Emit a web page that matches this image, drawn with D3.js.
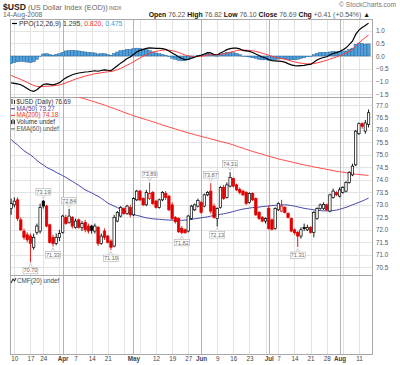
<!DOCTYPE html>
<html><head><meta charset="utf-8">
<script src="https://cdn.jsdelivr.net/npm/d3@7"></script>
<style>body{margin:0;background:#fff}svg{display:block}text{font-family:"Liberation Sans",Arial,sans-serif}</style>
</head><body>
<svg id="c" width="400" height="365"></svg>
<script>
// ---------- DATA ----------
const dates = ["2008-03-07","2008-03-10","2008-03-11","2008-03-12","2008-03-13","2008-03-14","2008-03-17","2008-03-18","2008-03-19","2008-03-20","2008-03-24","2008-03-25","2008-03-26","2008-03-27","2008-03-28","2008-03-31",
"2008-04-01","2008-04-02","2008-04-03","2008-04-04","2008-04-07","2008-04-08","2008-04-09","2008-04-10","2008-04-11","2008-04-14","2008-04-15","2008-04-16","2008-04-17","2008-04-18","2008-04-21","2008-04-22","2008-04-23","2008-04-24","2008-04-25","2008-04-28","2008-04-29","2008-04-30",
"2008-05-01","2008-05-02","2008-05-05","2008-05-06","2008-05-07","2008-05-08","2008-05-09","2008-05-12","2008-05-13","2008-05-14","2008-05-15","2008-05-16","2008-05-19","2008-05-20","2008-05-21","2008-05-22","2008-05-23","2008-05-27","2008-05-28","2008-05-29","2008-05-30",
"2008-06-02","2008-06-03","2008-06-04","2008-06-05","2008-06-06","2008-06-09","2008-06-10","2008-06-11","2008-06-12","2008-06-13","2008-06-16","2008-06-17","2008-06-18","2008-06-19","2008-06-20","2008-06-23","2008-06-24","2008-06-25","2008-06-26","2008-06-27","2008-06-30",
"2008-07-01","2008-07-02","2008-07-03","2008-07-07","2008-07-08","2008-07-09","2008-07-10","2008-07-11","2008-07-14","2008-07-15","2008-07-16","2008-07-17","2008-07-18","2008-07-21","2008-07-22","2008-07-23","2008-07-24","2008-07-25","2008-07-28","2008-07-29","2008-07-30","2008-07-31",
"2008-08-01","2008-08-04","2008-08-05","2008-08-06","2008-08-07","2008-08-08","2008-08-11","2008-08-12","2008-08-13","2008-08-14"];

const open = [72.85,73.00,73.20,72.40,71.95,71.80,71.75,71.30,71.90,71.95,73.15,72.95,72.20,71.70,71.45,71.70,
71.90,72.50,72.30,72.50,72.10,72.40,72.10,72.30,72.15,72.15,71.95,72.10,71.45,71.95,71.75,71.55,71.35,72.35,72.55,72.85,72.65,72.90,
72.60,73.20,73.55,73.25,73.00,73.25,73.50,73.15,72.90,73.20,73.45,73.35,73.00,72.50,72.45,72.05,72.00,71.95,72.45,72.80,72.95,
73.10,72.95,73.40,73.55,72.95,72.45,72.90,73.70,73.30,73.75,74.05,73.80,73.62,73.55,73.50,73.10,73.45,73.25,72.70,72.50,72.35,
72.85,72.40,72.05,72.80,72.75,72.90,72.65,72.45,72.00,71.90,71.75,72.10,72.00,72.10,71.90,72.45,72.85,72.85,73.00,72.75,73.30,73.50,
73.35,73.50,73.55,73.90,74.20,74.60,75.85,76.25,75.95,76.22];
const high = [73.25,73.30,73.30,72.50,72.05,71.90,71.85,71.85,72.25,73.05,73.19,73.00,72.25,71.80,71.85,72.00,
72.60,72.60,72.84,72.55,72.45,72.45,72.35,72.40,72.25,72.20,72.25,72.15,71.85,72.05,71.80,71.62,72.60,72.75,72.95,72.90,73.00,73.00,
73.30,73.60,73.60,73.30,73.60,73.89,73.55,73.20,73.25,73.55,73.55,73.40,73.10,72.55,72.50,72.15,72.05,72.60,73.00,73.05,73.25,
73.15,73.45,73.55,73.87,73.05,72.90,73.75,73.80,73.90,74.31,74.10,73.85,73.70,73.60,73.55,73.50,73.50,73.30,72.75,72.55,72.50,
72.95,72.45,72.90,73.10,73.20,72.95,72.70,72.50,72.05,71.95,72.10,72.25,72.20,72.15,72.75,72.90,73.05,73.10,73.05,73.45,73.65,73.55,
73.70,73.75,73.95,74.35,74.65,76.00,76.30,76.30,76.40,76.82];
const low = [72.60,72.90,72.35,71.95,71.60,71.50,70.70,71.20,71.80,71.85,72.85,72.10,71.45,71.33,71.38,71.55,
71.85,72.20,72.25,72.05,72.05,72.05,71.95,71.90,71.85,71.85,71.85,71.35,71.40,71.60,71.45,71.19,71.30,72.30,72.50,72.60,72.60,72.50,
72.55,73.15,73.15,72.95,72.95,73.20,73.00,72.85,72.85,73.15,73.20,72.75,72.40,72.25,71.88,71.82,71.85,71.90,72.40,72.75,72.90,
72.65,72.90,73.35,72.65,72.45,72.13,72.85,73.20,73.25,73.70,73.70,73.55,73.42,73.35,73.00,73.05,73.15,72.55,72.40,72.30,72.25,
72.00,71.98,72.00,72.75,72.70,72.65,72.45,71.90,71.80,71.31,71.65,71.95,71.95,71.85,71.70,72.40,72.80,72.80,72.75,72.70,73.25,73.35,
73.30,73.45,73.50,73.85,74.15,74.55,75.80,76.05,75.85,76.10];
const close = [73.05,73.15,72.45,72.00,71.70,71.60,71.45,71.70,72.15,72.90,72.95,72.15,71.50,71.45,71.70,71.85,
72.55,72.25,72.55,72.15,72.35,72.10,72.25,72.00,71.95,71.98,72.15,71.45,71.75,71.70,71.50,71.30,72.50,72.70,72.90,72.65,72.95,72.60,
73.25,73.55,73.20,73.00,73.50,73.45,73.05,72.90,73.20,73.50,73.30,72.80,72.45,72.32,71.92,71.90,71.88,72.55,72.95,73.00,73.18,
72.70,73.40,73.50,72.75,72.50,72.85,73.70,73.25,73.80,74.10,73.75,73.60,73.50,73.40,73.05,73.45,73.20,72.60,72.45,72.35,72.45,
72.05,72.02,72.85,73.05,72.95,72.70,72.50,71.95,71.88,71.75,72.00,72.05,72.10,71.90,72.70,72.85,73.00,73.02,72.80,73.40,73.55,73.40,
73.60,73.70,73.90,74.30,74.55,75.95,76.25,76.15,76.28,76.69];

const ma50 = [75.62,75.50,75.40,75.28,75.17,75.08,75.00,74.90,74.78,74.68,74.60,74.50,74.44,74.38,74.30,74.24,
74.17,74.10,74.02,73.94,73.86,73.78,73.69,73.60,73.54,73.48,73.41,73.34,73.26,73.17,73.07,73.01,72.95,72.89,72.82,72.76,72.70,72.65,
72.61,72.58,72.55,72.51,72.48,72.46,72.44,72.43,72.42,72.41,72.40,72.39,72.39,72.38,72.38,72.38,72.39,72.40,72.42,72.44,72.46,
72.48,72.50,72.52,72.55,72.57,72.59,72.62,72.64,72.67,72.70,72.73,72.77,72.80,72.83,72.85,72.87,72.89,72.90,72.91,72.93,72.94,
72.96,72.97,72.98,72.99,73.00,73.00,72.99,72.97,72.95,72.92,72.89,72.86,72.84,72.82,72.80,72.78,72.77,72.76,72.76,72.76,72.77,72.79,
72.82,72.86,72.90,72.95,73.00,73.05,73.10,73.15,73.21,73.27];
const ma200 = [78.20,78.16,78.12,78.08,78.03,77.99,77.95,77.91,77.87,77.82,77.78,77.74,77.70,77.66,77.61,77.57,
77.53,77.49,77.45,77.40,77.36,77.32,77.28,77.24,77.20,77.16,77.12,77.08,77.04,77.00,76.95,76.90,76.86,76.81,76.76,76.71,76.66,76.62,
76.57,76.53,76.49,76.45,76.41,76.37,76.33,76.29,76.24,76.20,76.16,76.12,76.08,76.04,76.00,75.96,75.92,75.88,75.85,75.81,75.78,
75.74,75.71,75.68,75.64,75.61,75.57,75.54,75.51,75.48,75.44,75.40,75.35,75.31,75.27,75.22,75.18,75.14,75.10,75.06,75.03,74.99,
74.95,74.91,74.88,74.84,74.81,74.78,74.75,74.72,74.69,74.66,74.63,74.60,74.57,74.55,74.52,74.50,74.47,74.45,74.42,74.40,74.37,74.35,
74.33,74.31,74.29,74.26,74.25,74.23,74.22,74.20,74.19,74.18];

const ppo = [-1.06,-1.08,-1.10,-1.13,-1.20,-1.28,-1.36,-1.39,-1.33,-1.22,-1.12,-1.10,-1.12,-1.14,-1.10,-1.05,
-0.95,-0.86,-0.80,-0.74,-0.70,-0.67,-0.65,-0.63,-0.62,-0.60,-0.58,-0.60,-0.57,-0.55,-0.56,-0.58,-0.48,-0.38,-0.28,-0.20,-0.10,-0.04,
0.06,0.16,0.22,0.26,0.30,0.32,0.31,0.30,0.30,0.29,0.26,0.20,0.12,0.05,-0.03,-0.10,-0.14,-0.13,-0.09,-0.05,0.00,
0.03,0.08,0.13,0.12,0.06,0.04,0.12,0.18,0.25,0.29,0.31,0.31,0.28,0.22,0.20,0.18,0.14,0.08,0.02,-0.04,-0.08,
-0.14,-0.18,-0.19,-0.20,-0.21,-0.24,-0.30,-0.35,-0.38,-0.39,-0.38,-0.37,-0.34,-0.33,-0.25,-0.16,-0.10,-0.06,-0.03,0.04,0.10,0.13,
0.18,0.24,0.32,0.45,0.58,0.85,1.02,1.12,1.20,1.295];
const ppoSignal = [-0.76,-0.82,-0.87,-0.92,-0.98,-1.04,-1.10,-1.16,-1.20,-1.21,-1.20,-1.19,-1.18,-1.17,-1.16,-1.14,
-1.10,-1.06,-1.01,-0.96,-0.91,-0.87,-0.83,-0.79,-0.76,-0.73,-0.70,-0.68,-0.66,-0.64,-0.62,-0.61,-0.58,-0.54,-0.49,-0.43,-0.36,-0.30,
-0.23,-0.15,-0.08,-0.01,0.05,0.11,0.15,0.18,0.21,0.23,0.24,0.23,0.21,0.18,0.14,0.09,0.04,0.01,-0.01,-0.02,-0.02,
-0.01,0.01,0.03,0.05,0.05,0.05,0.06,0.08,0.11,0.15,0.18,0.21,0.23,0.23,0.23,0.22,0.21,0.18,0.15,0.11,0.07,
0.03,-0.01,-0.05,-0.08,-0.10,-0.13,-0.16,-0.20,-0.23,-0.26,-0.28,-0.30,-0.31,-0.31,-0.30,-0.27,-0.24,-0.20,-0.17,-0.12,-0.08,-0.04,
0.01,0.06,0.12,0.19,0.27,0.39,0.51,0.63,0.73,0.820];
const ppoHist = [-0.30,-0.26,-0.23,-0.21,-0.22,-0.24,-0.26,-0.23,-0.13,-0.01,0.08,0.09,0.06,0.03,0.06,0.09,
0.15,0.20,0.21,0.22,0.21,0.20,0.18,0.16,0.14,0.13,0.12,0.08,0.09,0.09,0.06,0.03,0.10,0.16,0.21,0.23,0.26,0.26,
0.29,0.31,0.30,0.27,0.25,0.21,0.16,0.12,0.09,0.06,0.02,-0.03,-0.09,-0.13,-0.17,-0.19,-0.18,-0.14,-0.08,-0.03,0.02,
0.04,0.07,0.10,0.07,0.01,-0.01,0.06,0.10,0.14,0.14,0.13,0.10,0.05,-0.01,-0.03,-0.04,-0.07,-0.10,-0.13,-0.15,-0.15,
-0.17,-0.17,-0.14,-0.12,-0.11,-0.11,-0.14,-0.15,-0.15,-0.13,-0.10,-0.07,-0.03,-0.02,0.05,0.11,0.14,0.14,0.14,0.16,0.18,0.17,
0.17,0.18,0.20,0.26,0.31,0.46,0.51,0.49,0.47,0.475];

const tickDates = ["2008-03-10","2008-03-17","2008-03-24","2008-04-01","2008-04-07","2008-04-14","2008-04-21","2008-05-01","2008-05-12","2008-05-19","2008-05-27","2008-06-02","2008-06-09","2008-06-16","2008-06-23","2008-07-01","2008-07-07","2008-07-14","2008-07-21","2008-07-28","2008-08-01","2008-08-11"];
const tickLabels = ["10","17","24","Apr","7","14","21","May","12","19","27","Jun","9","16","23","Jul","7","14","21","28","Aug","11"];
const weekStarts = ["2008-03-10","2008-03-17","2008-03-24","2008-03-31","2008-04-07","2008-04-14","2008-04-21","2008-04-28","2008-05-05","2008-05-12","2008-05-19","2008-05-27","2008-06-02","2008-06-09","2008-06-16","2008-06-23","2008-06-30","2008-07-07","2008-07-14","2008-07-21","2008-07-28","2008-08-04","2008-08-11"];
const monthStarts = ["2008-04-01","2008-05-01","2008-06-02","2008-07-01","2008-08-01"];
const priceTicks = [70.5,71.0,71.5,72.0,72.5,73.0,73.5,74.0,74.5,75.0,75.5,76.0,76.5,77.0];
const ppoTicks = [-1.5,-1.0,-0.5,0.0,0.5,1.0];
const markDates = ["2008-03-17","2008-03-24","2008-03-27","2008-04-03","2008-04-22","2008-05-08","2008-05-22","2008-06-05","2008-06-09","2008-06-13","2008-07-15"];
const markValues = [70.70,73.19,71.33,72.84,71.19,73.89,71.82,73.87,72.13,74.31,71.31];
const markSide = ["below","above","below","above","below","above","below","above","below","above","below"];

// ---------- LAYOUT ----------
const svg = d3.select("#c");
const L = 10, R = 373;
const ppoTop = 19, ppoBot = 97, prTop = 97, prBot = 275, cmfTop = 275, cmfBot = 354;
const idx = dates.map((d, i) => i);
const x = d3.scaleLinear().domain([-0.35, 112.38]).range([L, R]);
const yPpo = d3.scaleLinear().domain([-1.614, 1.457]).range([ppoBot, ppoTop]);
const yPr = d3.scaleLinear().domain([70.19, 77.32]).range([prBot, prTop]);
const gridC = "#e3e3e3", monthC = "#b4b4b4", borderC = "#a8a8a8";
const RED = "#e00000";

const defs = svg.append("defs");
function clip(id, y0, y1) {
  defs.append("clipPath").attr("id", id).append("rect").attr("x", L).attr("y", y0).attr("width", R - L).attr("height", y1 - y0);
}
clip("cPpo", ppoTop, ppoBot); clip("cPr", prTop, prBot); clip("cCmf", cmfTop, cmfBot);

function panelGrid(y0, y1, yScale, ticks) {
  const g = svg.append("g");
  if (ticks) g.selectAll("line.h").data(ticks).join("line")
    .attr("x1", L).attr("x2", R).attr("y1", d => Math.round(yScale(d)) + 0.5).attr("y2", d => Math.round(yScale(d)) + 0.5)
    .attr("stroke", gridC).attr("stroke-width", 1);
  g.selectAll("line.w").data(weekStarts).join("line")
    .attr("x1", d => Math.round(x(dates.indexOf(d))) + 0.5).attr("x2", d => Math.round(x(dates.indexOf(d))) + 0.5)
    .attr("y1", y0).attr("y2", y1).attr("stroke", gridC);
  g.selectAll("line.m").data(monthStarts).join("line")
    .attr("x1", d => Math.round(x(dates.indexOf(d))) + 0.5).attr("x2", d => Math.round(x(dates.indexOf(d))) + 0.5)
    .attr("y1", y0).attr("y2", y1).attr("stroke", monthC);
  g.append("rect").attr("x", L + 0.5).attr("y", y0 + 0.5).attr("width", R - L - 1).attr("height", y1 - y0)
    .attr("fill", "none").attr("stroke", borderC);
}
panelGrid(ppoTop, ppoBot, yPpo, ppoTicks);
panelGrid(prTop, prBot, yPr, priceTicks);
panelGrid(cmfTop, cmfBot, null, null);

// ---------- PPO PANEL ----------
const gP = svg.append("g").attr("clip-path", "url(#cPpo)");
const bw = x(1) - x(0);
gP.selectAll("rect.hist").data(idx).join("rect")
  .attr("x", i => x(i) - bw / 2).attr("width", bw)
  .attr("y", i => Math.min(yPpo(ppoHist[i]), yPpo(0)))
  .attr("height", i => Math.abs(yPpo(ppoHist[i]) - yPpo(0)))
  .attr("fill", "#4f9fd8").attr("stroke", "#21609c").attr("stroke-width", 0.45);
gP.append("path").datum(idx).attr("fill", "none").attr("stroke", "#ff3b3b").attr("stroke-width", 1)
  .attr("d", d3.line().x(i => x(i)).y(i => yPpo(ppoSignal[i])));
gP.append("path").datum(idx).attr("fill", "none").attr("stroke", "#000").attr("stroke-width", 1.2)
  .attr("d", d3.line().x(i => x(i)).y(i => yPpo(ppo[i])));

// ---------- PRICE PANEL ----------
const gC = svg.append("g").attr("clip-path", "url(#cPr)");
gC.append("path").datum(idx).attr("fill", "none").attr("stroke", "#ff4a4a").attr("stroke-width", 1)
  .attr("d", d3.line().x(i => x(i)).y(i => yPr(ma200[i])));
gC.append("path").datum(idx).attr("fill", "none").attr("stroke", "#4747a8").attr("stroke-width", 1)
  .attr("d", d3.line().x(i => x(i)).y(i => yPr(ma50[i])));
const colorOf = i => (i > 0 && close[i] < close[i - 1]) ? RED : "#000";
const cw = 2.4;
const cg = gC.selectAll("g.cdl").data(idx).join("g");
cg.append("line").attr("x1", i => x(i)).attr("x2", i => x(i))
  .attr("y1", i => yPr(high[i])).attr("y2", i => yPr(low[i]))
  .attr("stroke", colorOf).attr("stroke-width", 0.9);
cg.append("rect").attr("x", i => x(i) - cw / 2).attr("width", cw)
  .attr("y", i => yPr(Math.max(open[i], close[i])))
  .attr("height", i => Math.max(0.8, Math.abs(yPr(open[i]) - yPr(close[i]))))
  .attr("fill", i => close[i] < open[i] ? colorOf(i) : "#fff")
  .attr("stroke", colorOf).attr("stroke-width", 0.7);

// high / low markers
const mk = svg.append("g");
markDates.forEach((d, k) => {
  const i = dates.indexOf(d), cx = x(i), v = markValues[k];
  const yv = yPr(v), above = markSide[k] === "above";
  const bh = 6.5, bwid = 15;
  const by = above ? yv - 5 - bh : yv + 5;
  const tipY = above ? yv - 1.5 : yv + 1.5;
  const baseY = above ? by + bh : by;
  mk.append("path").attr("d", `M${cx - 2},${baseY}L${cx},${tipY}L${cx + 2},${baseY}`)
    .attr("fill", "#fff").attr("stroke", "#b0b0b0").attr("stroke-width", 0.6);
  mk.append("rect").attr("x", cx - bwid / 2).attr("y", by).attr("width", bwid).attr("height", bh)
    .attr("fill", "#fff").attr("stroke", "#b0b0b0").attr("stroke-width", 0.6);
  mk.append("text").attr("x", cx).attr("y", by + bh - 1.3).attr("text-anchor", "middle")
    .attr("font-size", 5.6).attr("fill", "#666").text(v.toFixed(2));
});

// ---------- AXES ----------
const axR1 = svg.append("g").attr("transform", `translate(${R + 2},0)`)
  .call(d3.axisRight(yPpo).tickValues(ppoTicks).tickSize(0).tickPadding(1).tickFormat(d3.format(".1f")));
const axR2 = svg.append("g").attr("transform", `translate(${R + 2},0)`)
  .call(d3.axisRight(yPr).tickValues(priceTicks).tickSize(0).tickPadding(1).tickFormat(d3.format(".1f")));
[axR1, axR2].forEach(a => { a.select(".domain").remove(); a.selectAll("text").attr("font-size", 6.3).attr("fill", "#555").attr("font-family", "Liberation Sans, Arial"); });
const axB = svg.append("g").attr("transform", `translate(0,${cmfBot + 2})`)
  .call(d3.axisBottom(x).tickValues(tickDates.map(d => dates.indexOf(d))).tickSize(0).tickPadding(1)
    .tickFormat(i => tickLabels[tickDates.indexOf(dates[i])]));
axB.select(".domain").remove();
axB.selectAll("text").attr("font-size", 6.3).attr("fill", "#444").attr("font-family", "Liberation Sans, Arial")
  .attr("font-weight", t => /[A-Za-z]/.test(tickLabels[tickDates.indexOf(dates[t])]) ? "bold" : "normal");

// ---------- HEADER ----------
const h1 = svg.append("text").attr("x", 3).attr("y", 10);
h1.append("tspan").attr("font-size", 8.6).attr("font-weight", "bold").attr("fill", "#222").text("$USD");
h1.append("tspan").attr("font-size", 7.4).attr("fill", "#666").text(" (US Dollar Index (EOD))");
h1.append("tspan").attr("font-size", 5.2).attr("fill", "#666").text("  INDX");
svg.append("text").attr("x", 3).attr("y", 17).attr("font-size", 6.8).attr("fill", "#666").text("14-Aug-2008");
svg.append("text").attr("x", 396).attr("y", 7).attr("text-anchor", "end").attr("font-size", 6.6).attr("fill", "#777").text("© StockCharts.com");
const h2 = svg.append("text").attr("x", 370).attr("y", 17).attr("text-anchor", "end").attr("font-size", 6.9).attr("fill", "#333");
[["Open", "76.22"], ["High", "76.82"], ["Low", "76.10"], ["Close", "76.69"], ["Chg", "+0.41 (+0.54%)"]].forEach(([k, v]) => {
  h2.append("tspan").attr("font-weight", "bold").attr("fill", "#111").text(" " + k + " ");
  h2.append("tspan").attr("fill", "#555").text(v);
});
h2.append("tspan").attr("fill", "#111").text(" ▲");

// ---------- LEGENDS ----------
svg.append("line").attr("x1", 12).attr("x2", 17).attr("y1", 23.5).attr("y2", 23.5).attr("stroke", "#000").attr("stroke-width", 1.2);
const lg = svg.append("text").attr("x", 19).attr("y", 26).attr("font-size", 6.9).attr("font-family", "DejaVu Sans").attr("fill", "#333");
lg.append("tspan").text("PPO(12,26,9) 1.295, ");
lg.append("tspan").attr("fill", "#e33").text("0.820, ");
lg.append("tspan").attr("fill", "#4a9ad6").text("0.475");

const legRows = [
  { t: "$USD (Daily) 76.69", c: "#333", icon: "candle", ic: "#333" },
  { t: "MA(50) 73.27", c: "#4747a8", icon: "dash", ic: "#4747a8" },
  { t: "MA(200) 74.18", c: "#e33", icon: "dash", ic: "#ff4a4a" },
  { t: "Volume undef", c: "#333", icon: "bars", ic: "#333" },
  { t: "EMA(60) undef", c: "#555", icon: "dash", ic: "#6a8a6a" }
];
legRows.forEach((r, k) => {
  const yy = 104 + k * 6.7;
  if (r.icon === "dash") svg.append("line").attr("x1", 11).attr("x2", 15).attr("y1", yy - 2).attr("y2", yy - 2).attr("stroke", r.ic).attr("stroke-width", 1.2);
  else if (r.icon === "bars") { [0, 1.5, 3].forEach((o, j) => svg.append("rect").attr("x", 11 + o).attr("y", yy - 4 + (j === 1 ? -1 : 0)).attr("width", 1).attr("height", 4 + (j === 1 ? 1 : 0)).attr("fill", r.ic)); }
  else { svg.append("path").attr("d", `M12,${yy - 5}V${yy}M14.5,${yy - 4}V${yy}`).attr("stroke", r.ic).attr("stroke-width", 1.1); }
  svg.append("text").attr("x", 16.5).attr("y", yy).attr("font-size", 6.3).attr("font-family", "DejaVu Sans").attr("fill", r.c).text(r.t);
});
svg.append("path").attr("d", `M11,${283}L13,${279}L14.5,${281}L16,${278}`).attr("stroke", "#333").attr("fill", "none").attr("stroke-width", 1.1);
svg.append("text").attr("x", 17).attr("y", 283).attr("font-size", 6.3).attr("font-family", "DejaVu Sans").attr("fill", "#444").text("CMF(20) undef");
</script>
</body></html>
